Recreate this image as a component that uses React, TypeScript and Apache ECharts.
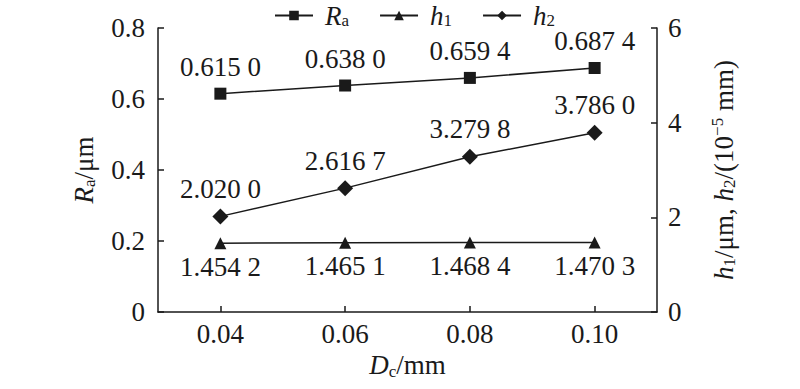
import React, { useEffect, useRef } from "react";
import * as echarts from "echarts";

const categories = ["0.04", "0.06", "0.08", "0.10"];
const raValues = [0.615, 0.638, 0.6594, 0.6874];
const h1Values = [1.4542, 1.4651, 1.4684, 1.4703];
const h2Values = [2.02, 2.6167, 3.2798, 3.786];
const leftTicks = [0, 0.2, 0.4, 0.6, 0.8];
const rightTicks = [0, 2, 4, 6];

const FONT = "Liberation Serif";
const FS = 27;
const C = "#1a1a1a";

function fmt(v: number): string {
  const s = v.toFixed(4);
  return s.slice(0, -1) + " " + s.slice(-1);
}

const rich = {
  i: { fontFamily: FONT, fontSize: FS, fontStyle: "italic", color: C },
  s: { fontFamily: FONT, fontSize: 17, color: C, padding: [12, 0, 0, 0] },
  sup: { fontFamily: FONT, fontSize: 17, color: C, padding: [0, 0, 12, 0] },
  n: { fontFamily: FONT, fontSize: FS, color: C },
};

const legendRich = {
  li: { fontFamily: FONT, fontSize: FS, fontStyle: "italic", color: C, padding: [0, 0, 0, 7], lineHeight: 26 },
  ls: { fontFamily: FONT, fontSize: 17, color: C, lineHeight: 26, verticalAlign: "bottom", padding: [6, 0, 0, 0] },
};

export default function App() {
  const ref = useRef<HTMLDivElement>(null);
  useEffect(() => {
    if (!ref.current) return;
    const chart = echarts.init(ref.current, undefined, { renderer: "svg" });
    const lineStyle = { color: C, width: 1.5 };
    const labelBase = {
      show: true,
      fontFamily: FONT,
      fontSize: FS,
      color: C,
      formatter: (p: any) => fmt(p.value),
    };
    chart.setOption({
      animation: false,
      backgroundColor: "#fff",
      textStyle: { fontFamily: FONT },
      legend: {
        top: 0,
        left: 269,
        padding: [2, 5, 2, 5],
        itemWidth: 38,
        itemHeight: 12,
        itemGap: 30,
        textStyle: { fontFamily: FONT, fontSize: FS, color: C, rich: legendRich },
        formatter: (name: string) => {
          if (name === "Ra") return "{li|R}{ls|a}";
          if (name === "h1") return "{li|h}{ls|1}";
          return "{li|h}{ls|2}";
        },
        data: ["Ra", "h1", "h2"],
      },
      grid: { left: 158, right: 143, top: 28, bottom: 77 },
      xAxis: {
        type: "category",
        data: categories,
        boundaryGap: true,
        name: "{i|D}{s|c}{n|/mm}",
        nameLocation: "middle",
        nameGap: 37,
        nameTextStyle: { rich },
        axisLine: { show: true, lineStyle: { color: C, width: 1.5 } },
        axisTick: { show: true, inside: true, alignWithLabel: true, length: 6, lineStyle: { color: C, width: 1.5 } },
        axisLabel: { fontFamily: FONT, fontSize: FS, color: C, margin: 8 },
        splitLine: { show: false },
      },
      yAxis: [
        {
          type: "value",
          min: leftTicks[0],
          max: leftTicks[leftTicks.length - 1],
          interval: 0.2,
          name: "{i|R}{s|a}{n|/μm}",
          nameLocation: "middle",
          nameGap: 60,
          nameTextStyle: { rich },
          axisLine: { show: true, lineStyle: { color: C, width: 1.5 } },
          axisTick: { show: true, inside: true, length: 6, lineStyle: { color: C, width: 1.5 } },
          axisLabel: {
            fontFamily: FONT,
            fontSize: FS,
            color: C,
            margin: 13,
            formatter: (v: number) => (v === 0 ? "0" : v.toFixed(1)),
          },
          splitLine: { show: false },
        },
        {
          type: "value",
          min: rightTicks[0],
          max: rightTicks[rightTicks.length - 1],
          interval: 2,
          name: "{i|h}{s|1}{n|/μm, }{i|h}{s|2}{n|/(10}{sup|−5}{n| mm)}",
          nameLocation: "middle",
          nameGap: 52,
          nameTextStyle: { rich },
          axisLine: { show: true, lineStyle: { color: C, width: 1.5 } },
          axisTick: { show: true, inside: true, length: 6, lineStyle: { color: C, width: 1.5 } },
          axisLabel: { fontFamily: FONT, fontSize: FS, color: C, margin: 11 },
          splitLine: { show: false },
        },
      ],
      series: [
        {
          name: "Ra",
          type: "line",
          yAxisIndex: 0,
          data: raValues,
          symbol: "rect",
          symbolSize: 12,
          itemStyle: { color: C },
          lineStyle,
          label: { ...labelBase, position: "top", distance: 7 },
        },
        {
          name: "h1",
          type: "line",
          yAxisIndex: 1,
          data: h1Values,
          symbol: "triangle",
          symbolSize: 12,
          itemStyle: { color: C },
          lineStyle,
          label: { ...labelBase, position: "bottom", distance: 4 },
        },
        {
          name: "h2",
          type: "line",
          yAxisIndex: 1,
          data: h2Values,
          symbol: "diamond",
          symbolSize: 16,
          itemStyle: { color: C },
          lineStyle,
          label: { ...labelBase, position: "top", distance: 6 },
        },
      ],
    });
    return () => chart.dispose();
  }, []);
  return <div ref={ref} style={{ width: 800, height: 389, position: "absolute", left: 0, top: 0 }} />;
}
